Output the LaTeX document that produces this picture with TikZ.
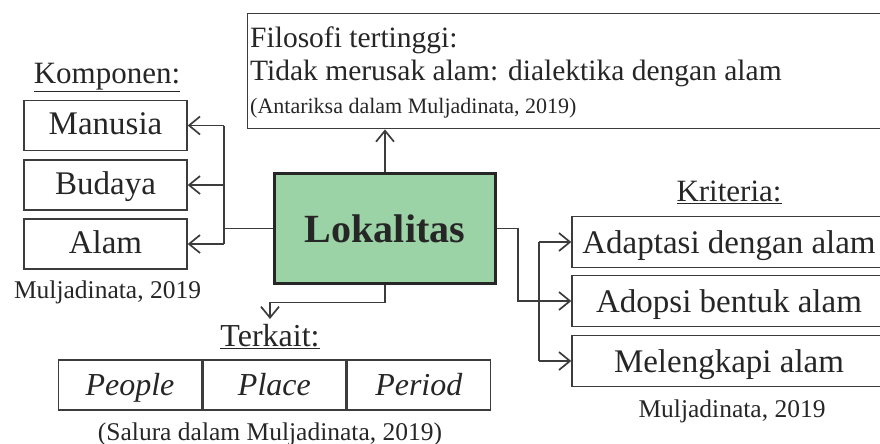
\documentclass[tikz,border=0pt]{standalone}
\usepackage{fontspec}
\setmainfont{Liberation Serif}
\usepackage{tikz}
\usetikzlibrary{arrows.meta, positioning, calc}
\definecolor{lokgreen}{RGB}{155,211,166}
\definecolor{inkgray}{RGB}{60,60,60}

\begin{document}
\begin{tikzpicture}[
            x=1pt, y=-1pt,
            every node/.style={text=black!85},
            comp/.style={draw=inkgray, line width=1.4pt, minimum width=163pt, minimum height=50pt, inner sep=0pt,
                         text height=24pt, text depth=6pt, font=\fontsize{33}{36}\selectfont},
            krit/.style={draw=inkgray, line width=1.4pt, minimum width=314pt, minimum height=51pt, inner sep=0pt,
                         text height=26pt, text depth=4pt, font=\fontsize{33}{36}\selectfont},
            cell/.style={draw=inkgray, line width=1.4pt, minimum width=143pt, minimum height=50pt, inner sep=0pt,
                         text height=25pt, text depth=5pt, font=\fontsize{32}{36}\itshape},
            title/.style={inner sep=0pt, anchor=base, font=\fontsize{31}{34}\selectfont},
            source/.style={inner sep=0pt, anchor=base, font=\fontsize{25.5}{28}\selectfont},
            line/.style={draw=inkgray, line width=1.4pt},
            arr/.style={line, -{Straight Barb[length=11pt, width=18pt, line width=1.7pt]}}
        ]
            \useasboundingbox (0,0) rectangle (880,444);
            % Center
            \node[draw=black!85, line width=3.5pt, fill=lokgreen, minimum width=221pt, minimum height=110pt,
                  font=\fontsize{40}{44}\bfseries] (lok) at (385,228.5) {Lokalitas};
            % Top box
            \node[line, anchor=north west, minimum width=638pt, minimum height=115pt] (filo) at (247,13) {};
            \node[inner sep=0pt, anchor=base west, font=\fontsize{29.5}{30}\selectfont] (filo1) at (250,48) {Filosofi tertinggi:};
            \node[inner sep=0pt, anchor=base west, font=\fontsize{29.5}{30}\selectfont] (filo2) at (250,80) {Tidak merusak alam: dialektika dengan alam};
            \node[inner sep=0pt, anchor=base west, font=\fontsize{22}{23}\selectfont] (filo3) at (250,113) {(Antariksa dalam Muljadinata, 2019)};
            % Components
            \node[title] (komp) at (107,83) {\underline{Komponen:}};
            \node[comp] (man) at (105.5,125.5) {Manusia};
            \node[comp] (bud) at (105.5,185) {Budaya};
            \node[comp] (alam) at (105.5,244) {Alam};
            \node[source] (srcl) at (107.5,298) {Muljadinata, 2019};
            % Criteria
            \node[title] (krt) at (729,201) {\underline{Kriteria:}};
            \node[krit] (ada) at (729,242) {Adaptasi dengan alam};
            \node[krit] (ado) at (729,301) {Adopsi bentuk alam};
            \node[krit] (mel) at (729,361) {Melengkapi alam};
            \node[source] (srcr) at (732,417) {Muljadinata, 2019};
            % Related
            \node[title, font=\fontsize{32}{34}\selectfont] (terk) at (270,346) {\underline{Terkait:}};
            \node[cell] (peo) at (130,385) {People};
            \node[cell, right=0pt of peo] (pla) {Place};
            \node[cell, right=0pt of pla] (per) {Period};
            \node[source] (srcb) at (270,440) {(Salura dalam Muljadinata, 2019)};
            % Connectors
            \coordinate (lsplit) at (224,228.5);
            \coordinate (rbend) at (518,228.5);
            \coordinate (rsplit) at (539,242);
            \coordinate (tk) at (270,319);
            \draw[arr] (lok.north) -- (lok.north |- filo.south);
            \draw[line] (lok.west) -- (lsplit);
            \draw[line] (lsplit |- man.east) -- (lsplit |- alam.east);
            \draw[arr] (lsplit |- man.east) -- (man.east);
            \draw[arr] (lsplit |- bud.east) -- (bud.east);
            \draw[arr] (lsplit |- alam.east) -- (alam.east);
            \draw[arr] (lok.south) -- ++(0,17) -| (tk);
            \draw[arr] (lok.east) -- (rbend) |- (ado.west);
            \draw[line] (rsplit |- ada.west) -- (rsplit |- mel.west);
            \draw[arr] (rsplit |- ada.west) -- (ada.west);
            \draw[arr] (rsplit |- mel.west) -- (mel.west);
        \end{tikzpicture}
\end{document}
